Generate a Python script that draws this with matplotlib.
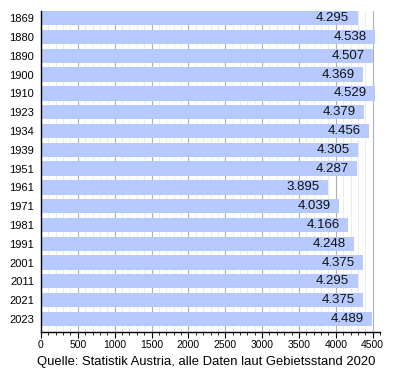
import matplotlib
matplotlib.use("Agg")
import matplotlib.pyplot as plt
from matplotlib.ticker import MultipleLocator

years = ["1869", "1880", "1890", "1900", "1910", "1923", "1934", "1939", "1951",
         "1961", "1971", "1981", "1991", "2001", "2011", "2021", "2023"]
values = [4295, 4538, 4507, 4369, 4529, 4379, 4456, 4305, 4287,
          3895, 4039, 4166, 4248, 4375, 4295, 4375, 4489]
caption = "Quelle: Statistik Austria, alle Daten laut Gebietsstand 2020"

plt.rcParams['font.family'] = ['Liberation Sans', 'DejaVu Sans']
fig = plt.figure(figsize=(4, 3.7), dpi=100)
ax = fig.add_axes([0.1025, 0.1035, 0.8475, 0.8675])

y = list(range(len(years)))
ax.set_axisbelow(True)
ax.xaxis.set_major_locator(MultipleLocator(500))
ax.xaxis.set_minor_locator(MultipleLocator(100))
ax.grid(axis='x', which='major', color='#b0b0b0', linewidth=0.8)
ax.grid(axis='x', which='minor', color='#e8e8e8', linewidth=0.6)
ax.barh(y, values, height=0.76, color='#b6caff', zorder=2)

for yi, v in zip(y, values):
    s = f"{v:,}".replace(",", ".")
    ax.annotate(s, xy=(v, yi), xytext=(-6, 0), textcoords='offset points',
                ha='right', va='center', fontsize=9.5, color='#111111', zorder=3)

ax.set_xlim(0, 4600)
ax.set_ylim(len(years) - 0.32, -0.4)
ax.set_yticks(y)
ax.set_yticklabels(years, fontsize=8)
ax.tick_params(axis='y', length=0, pad=5)
ax.tick_params(axis='x', which='major', direction='out', length=4, labelsize=7.5, pad=2)
ax.tick_params(axis='x', which='minor', direction='out', length=2)
for s in ['top', 'right']:
    ax.spines[s].set_visible(False)
ax.spines['left'].set_linewidth(1)
ax.spines['bottom'].set_linewidth(1)

fig.text(0.515, 0.022, caption, ha='center', va='center', fontsize=9.4)
fig.savefig("out.png", dpi=100, facecolor='white')
